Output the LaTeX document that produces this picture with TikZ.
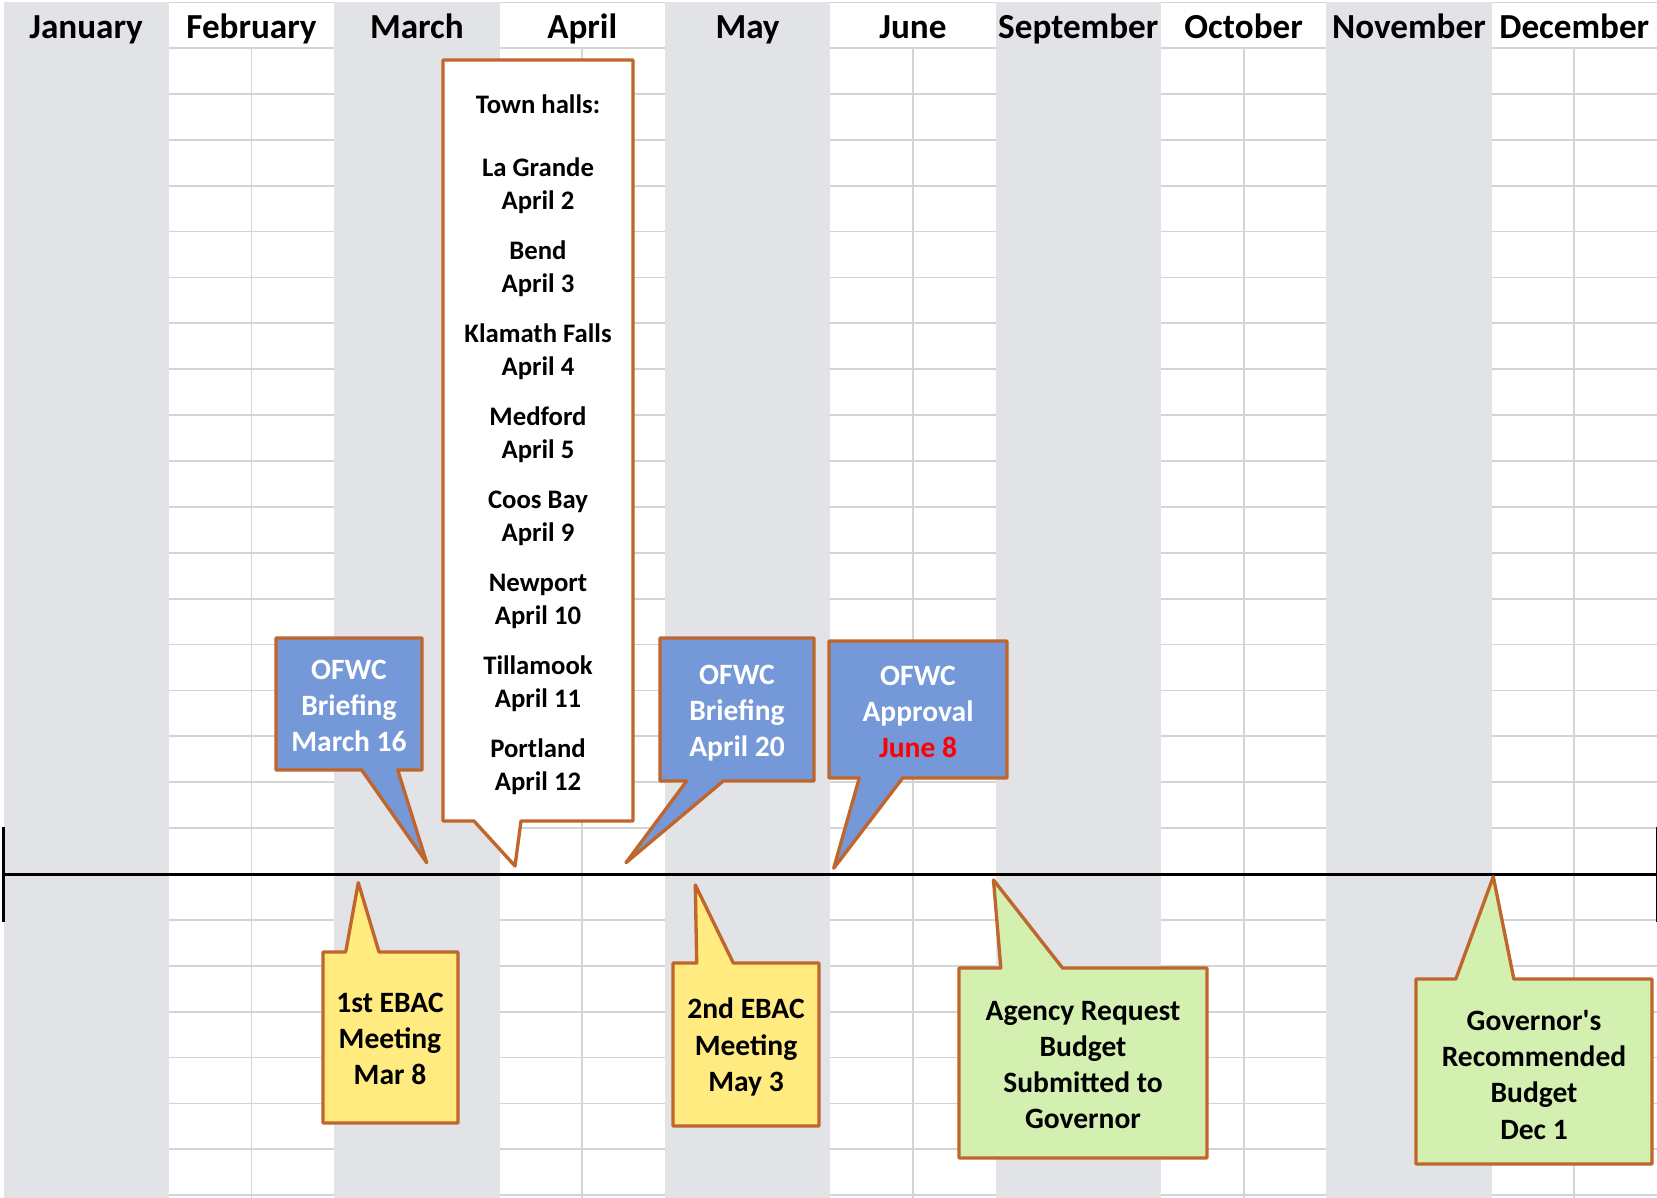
\documentclass[tikz,border=0pt]{standalone}
\usepackage{fontspec}
\setmainfont{Carlito}
\definecolor{colgray}{HTML}{E2E3E6}
\definecolor{gridln}{HTML}{D4D4D4}
\definecolor{rim}{HTML}{C0652C}
\definecolor{ofwc}{HTML}{7598D9}
\definecolor{ebac}{HTML}{FFEB7F}
\definecolor{budget}{HTML}{D3F0B0}

\begin{document}
\begin{tikzpicture}[
  x=0.01cm, y=-0.01cm,
  gridline/.style={draw=gridln, line width=0.5pt},
  wedge/.style={draw=rim, line width=0.95pt, line join=round},
  monthlabel/.style={anchor=base, font=\fontsize{10}{12}\selectfont\bfseries},
  calltext/.style={align=center, font=\fontsize{8.4}{10.25}\selectfont\bfseries},
  ofwctext/.style={calltext, text=white},
  halltext/.style={align=center, font=\fontsize{7.6}{9.3}\selectfont\bfseries},
]
\def\colw{165.35}
\def\rowh{45.89}
\fill[white] (0,0) rectangle (1657,1198);
\useasboundingbox (0,0) rectangle (1657,1198);
% --- sheet: rows, half-month lines, shaded months ---
\draw[gridline] (3.5,2.5) -- (1657,2.5);
\foreach \r in {0,...,25}
  \draw[gridline] (3.5,{48+\r*\rowh}) -- (1657,{48+\r*\rowh});
\foreach \k in {1,3,5,7,9}
  \draw[gridline] ({3.5+(\k+0.5)*\colw},48) -- ({3.5+(\k+0.5)*\colw},1198);
\foreach \k in {0,2,4,6,8}
  \fill[colgray] ({3.5+\k*\colw},2.5) rectangle ({3.5+(\k+1)*\colw},1198);
% month headers
\foreach \m [count=\i from 0] in {January,February,March,April,May,June,September,October,November,December}
  \node[monthlabel] (month\i) at ({3.5+(\i+0.5)*\colw},39) {\m};
% --- timeline ---
\coordinate (tlstart) at (3.7,874.3);
\coordinate (tlend) at (1657,874.3);
\draw[line width=0.77pt] (tlstart) -- (tlend);
\draw[line width=0.77pt] (3.7,827) -- (3.7,921.7);
\draw[line width=0.5pt] (1656.5,827) -- (1656.5,921.7);
% --- callouts above the line ---
\draw[wedge, fill=ofwc] (276,638) -- (422,638) -- (422,770) -- (397.7,770) -- (426.7,862.7) -- (361.7,770) -- (276,770) -- cycle;
\node[ofwctext] (brfmar) at (349,706) {OFWC\\Briefing\\March 16};
\draw[wedge, fill=white] (443,60) -- (633,60) -- (633,821) -- (521,821) -- (515,866) -- (474,821) -- (443,821) -- cycle;
\node[halltext] (halls) at (538,444.5) {Town halls:\\[8.7pt]
  La Grande\\April 2\\[5pt]
  Bend\\April 3\\[5pt]
  Klamath Falls\\April 4\\[5pt]
  Medford\\April 5\\[5pt]
  Coos Bay\\April 9\\[5pt]
  Newport\\April 10\\[5pt]
  Tillamook\\April 11\\[5pt]
  Portland\\April 12};
\draw[wedge, fill=ofwc] (660,638) -- (814,638) -- (814,781) -- (723.3,781) -- (626,862.7) -- (686.7,781) -- (660,781) -- cycle;
\node[ofwctext] (brfapr) at (737,713) {OFWC\\Briefing\\April 20};
\draw[wedge, fill=ofwc] (829,641) -- (1007,641) -- (1007,778) -- (902.7,778) -- (833.7,868.3) -- (859.3,778) -- (829,778) -- cycle;
\node[ofwctext] (apprjun) at (918,712) {OFWC\\Approval\\\textcolor{red}{June 8}};
% --- callouts below the line ---
\draw[wedge, fill=ebac] (323,952) -- (345.7,952) -- (358.3,882.7) -- (379,952) -- (458,952) -- (458,1123) -- (323,1123) -- cycle;
\node[calltext] (ebac1) at (390,1039) {1st EBAC\\Meeting\\Mar 8};
\draw[wedge, fill=ebac] (673,963) -- (696.7,963) -- (695.3,885) -- (733.3,963) -- (819,963) -- (819,1126) -- (673,1126) -- cycle;
\node[calltext] (ebac2) at (746,1047) {2nd EBAC\\Meeting\\May 3};
\draw[wedge, fill=budget] (959,968) -- (1000.8,968) -- (993.5,880) -- (1062.5,968) -- (1207,968) -- (1207,1158) -- (959,1158) -- cycle;
\node[calltext] (agency) at (1083,1065) {Agency Request\\Budget\\Submitted to\\Governor};
\draw[wedge, fill=budget] (1416,979) -- (1455.8,979) -- (1493.3,876.7) -- (1513.8,979) -- (1652,979) -- (1652,1164) -- (1416,1164) -- cycle;
\node[calltext] (govrec) at (1534,1075) {Governor\textquotesingle s\\Recommended\\Budget\\Dec 1};
\end{tikzpicture}
\end{document}
